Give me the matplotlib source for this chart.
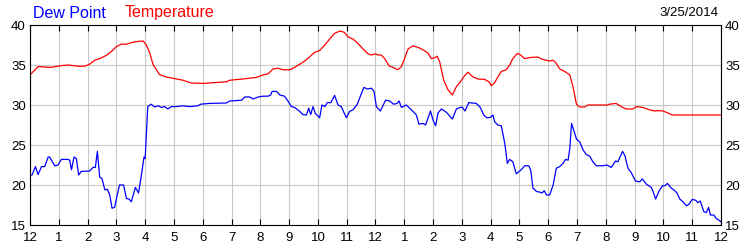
#!/usr/bin/python
import numpy as np
import matplotlib as mpl
mpl.use('Agg')
import matplotlib.pyplot as plt

# hours since midnight
temp_hours = [0.0, 0.28, 0.74, 1.03, 1.32, 1.67, 1.9, 2.07, 2.25, 2.42, 2.65, 2.83, 3.0, 3.17,
              3.35, 3.52, 3.75, 3.93, 4.04, 4.16, 4.27, 4.5, 4.73, 5.02, 5.31, 5.6, 6.0, 6.41,
              6.82, 6.94, 7.4, 7.86, 8.1, 8.27, 8.44, 8.61, 8.79, 9.02, 9.19, 9.37, 9.54, 9.71,
              9.89, 10.06, 10.24, 10.41, 10.58, 10.76, 10.91, 11.05, 11.22, 11.39, 11.57, 11.74,
              11.86, 12.0, 12.09, 12.2, 12.32, 12.47, 12.61, 12.78, 12.9, 13.01, 13.13, 13.3,
              13.48, 13.65, 13.82, 13.94, 14.05, 14.14, 14.23, 14.37, 14.52, 14.67, 14.81, 14.95,
              15.06, 15.21, 15.39, 15.56, 15.79, 15.94, 16.02, 16.14, 16.25, 16.37, 16.54, 16.66,
              16.77, 16.93, 17.04, 17.18, 17.41, 17.64, 17.76, 17.93, 18.05, 18.17, 18.28, 18.4,
              18.57, 18.75, 18.86, 18.98, 19.09, 19.26, 19.38, 19.73, 20.05, 20.13, 20.36, 20.53,
              20.71, 20.94, 21.06, 21.29, 21.52, 21.7, 21.81, 21.99, 22.16, 22.31, 23.0, 24.0]
temp_vals = [33.75, 34.8, 34.7, 34.9, 35.0, 34.85, 34.85, 35.1, 35.6, 35.8, 36.2, 36.7, 37.3, 37.6,
             37.6, 37.8, 37.95, 38.0, 37.5, 36.5, 35.1, 33.8, 33.5, 33.3, 33.1, 32.75, 32.7, 32.8,
             32.9, 33.1, 33.25, 33.45, 33.75, 33.9, 34.5, 34.6, 34.4, 34.4, 34.7, 35.1, 35.5, 36.0,
             36.6, 36.8, 37.5, 38.25, 38.95, 39.25, 39.1, 38.5, 38.25, 37.7, 37.0, 36.4,
             36.25, 36.4, 36.25, 36.25, 35.8, 34.9, 34.7, 34.4, 34.8, 35.8, 37.0, 37.4,
             37.2, 36.9, 36.5, 35.8, 35.9, 36.1, 35.4, 33.1, 31.9, 31.25, 32.3, 32.9,
             33.5, 34.1, 33.5, 33.25, 33.2, 32.9, 32.4, 32.8, 33.5, 34.2, 34.4, 35.0,
             35.8, 36.45, 36.25, 35.8, 35.95, 36.0, 35.75, 35.6, 35.5, 35.6, 35.2, 34.5,
             34.2, 33.75, 32.3, 30.1, 29.75, 29.75, 30.0, 30.0, 30.0, 30.1, 30.2, 29.8,
             29.5, 29.5, 29.8, 29.7, 29.4, 29.25, 29.3, 29.25, 29.0, 28.75, 28.75, 28.75]

dew_hours = [0.0, 0.07, 0.19, 0.28, 0.4, 0.51, 0.63, 0.68, 0.86, 0.97, 1.09, 1.32, 1.38, 1.44,
             1.53, 1.61, 1.69, 1.78, 2.07, 2.19, 2.27, 2.34, 2.42, 2.5, 2.6, 2.69, 2.77, 2.85,
             2.94, 3.03, 3.11, 3.25, 3.35, 3.44, 3.52, 3.66, 3.77, 3.87, 3.96, 4.0, 4.09, 4.21,
             4.33, 4.45, 4.56, 4.68, 4.79, 4.91, 5.08, 5.31, 5.55, 5.84, 5.92, 6.24, 6.82, 6.94,
             7.17, 7.35, 7.46, 7.63, 7.75, 7.92, 8.1, 8.27, 8.36, 8.41, 8.56, 8.68, 8.84, 8.96,
             9.08, 9.19, 9.37, 9.48, 9.6, 9.68, 9.75, 9.83, 9.91, 10.06, 10.14, 10.24, 10.33,
             10.45, 10.58, 10.7, 10.81, 10.99, 11.1, 11.22, 11.37, 11.49, 11.6, 11.72, 11.86,
             11.95, 12.03, 12.17, 12.35, 12.49, 12.63, 12.75, 12.82, 12.9, 13.07, 13.19, 13.33,
             13.42, 13.51, 13.65, 13.74, 13.91, 14.0, 14.09, 14.17, 14.29, 14.46, 14.67, 14.81,
             14.95, 15.01, 15.11, 15.24, 15.5, 15.64, 15.76, 15.87, 15.99, 16.08, 16.14, 16.25,
             16.37, 16.49, 16.58, 16.66, 16.77, 16.89, 17.06, 17.18, 17.32, 17.39, 17.47, 17.59,
             17.71, 17.79, 17.86, 17.94, 18.05, 18.17, 18.28, 18.4, 18.51, 18.6, 18.69, 18.75,
             18.81, 18.9, 18.98, 19.09, 19.21, 19.32, 19.44, 19.55, 19.67, 19.9, 20.04, 20.19,
             20.34, 20.42, 20.58, 20.66, 20.77, 20.89, 21.03, 21.18, 21.27, 21.41, 21.58, 21.64,
             21.73, 21.85, 21.97, 22.05, 22.14, 22.28, 22.39, 22.47, 22.57, 22.68, 22.8, 22.89,
             23.0, 23.12, 23.2, 23.28, 23.4, 23.49, 23.57, 23.63, 23.75, 23.84, 23.93, 24.0]
dew_vals = [21.25, 21.25, 22.3, 21.3, 22.3, 22.3, 23.5, 23.5, 22.4, 22.5, 23.2, 23.2, 23.1, 21.9,
            23.5, 23.3, 21.25, 21.7, 21.75, 22.2, 22.2, 24.2, 21.0, 20.8, 19.4, 19.45, 18.75, 17.1,
            17.2, 18.75, 20.0, 20.0, 18.3, 18.25, 17.9, 19.7, 19.0, 21.25, 23.5, 23.3, 29.8, 30.1,
            29.75, 29.9, 29.7, 29.8, 29.5, 29.8, 29.8, 29.9, 29.8, 29.9, 30.1, 30.2, 30.25, 30.5,
            30.55, 30.6, 31.0, 31.0, 30.75, 31.0, 31.1, 31.1, 31.25, 31.7, 31.7, 31.25, 31.1, 30.5,
            29.8, 29.7, 29.2, 28.8, 28.75, 29.6, 28.8, 29.8, 28.95, 28.4, 30.0, 29.8, 30.3,
            30.3, 31.2, 30.0, 29.8, 28.4, 29.2, 29.4, 30.1, 31.25, 32.2, 32.0, 32.1,
            31.7, 29.8, 29.25, 30.6, 30.5, 30.1, 30.2, 30.5, 29.7, 30.0, 29.6, 29.1,
            28.75, 27.6, 27.7, 27.5, 29.25, 28.1, 27.4, 29.0, 29.5, 29.1, 28.25, 29.5,
            29.7, 29.75, 29.25, 30.3, 30.2, 29.7, 28.75, 28.4, 28.45, 28.75, 27.9, 27.5,
            27.4, 25.2, 22.7, 23.2, 22.9, 21.4, 21.9, 22.4, 22.4, 21.9, 19.6, 19.2,
            19.1, 19.0, 19.3, 18.75, 18.75, 20.0, 22.1, 22.3, 22.7, 23.2, 23.1, 24.6,
            27.7, 26.7, 25.75, 25.4, 24.4, 23.8, 23.6, 22.9, 22.4, 22.4, 22.5, 22.2,
            23.0, 22.9, 24.2, 23.7, 22.1, 21.5, 20.5, 20.4, 20.75, 20.1, 19.7, 19.2,
            18.25, 19.25, 19.9, 19.9, 20.2, 19.6, 19.3, 19.0, 18.25, 17.9, 17.4, 17.6,
            18.2, 18.1, 17.8, 18.0, 16.7, 16.55, 17.2, 16.25, 16.25, 15.8, 15.6, 15.4]

hour_labels = ['12', '1', '2', '3', '4', '5', '6', '7', '8', '9', '10', '11',
               '12', '1', '2', '3', '4', '5', '6', '7', '8', '9', '10', '11', '12']
y_ticks = [15, 20, 25, 30, 35, 40]
date_str = '3/25/2014'

params = {'font.family': ['Liberation Sans', 'DejaVu Sans'],
          'font.size': 8.5,
          'axes.linewidth': 0.8,
          'lines.linewidth': 0.9}
plt.rcParams.update(params)

fig = plt.figure(1, figsize=(7.5, 2.5), dpi=100)
ax = fig.add_axes([0.04, 0.1, 0.9213, 0.8])

ax.plot(temp_hours, temp_vals, color='#ff0000', lw=0.9)
ax.plot(dew_hours, dew_vals, color='#0000ff', lw=0.9)

ax.set_xlim(0, 24)
ax.set_ylim(15, 40)
ax.set_xticks(np.arange(25))
ax.set_xticklabels(hour_labels)
ax.set_yticks(y_ticks)
ax.grid(True, color='#c8c8c8', lw=0.8)
ax.set_axisbelow(True)

ax.tick_params(axis='x', direction='in', top=True, length=4, width=0.8, pad=5, labelsize=9.5)
ax.tick_params(axis='y', length=0, left=False, right=False, labelleft=True, labelright=True,
               pad=3, labelsize=9.5)

fig.text(33 / 750., 1 - 13 / 250., 'Dew Point', color='#0000ff', fontsize=11.5, va='center')
fig.text(125 / 750., 1 - 13 / 250., 'Temperature', color='#ff0000', fontsize=11.5, va='center')
fig.text(718 / 750., 1 - 13 / 250., date_str, color='k', fontsize=9.5, va='center', ha='right')

plt.savefig('out.png', dpi=100)
